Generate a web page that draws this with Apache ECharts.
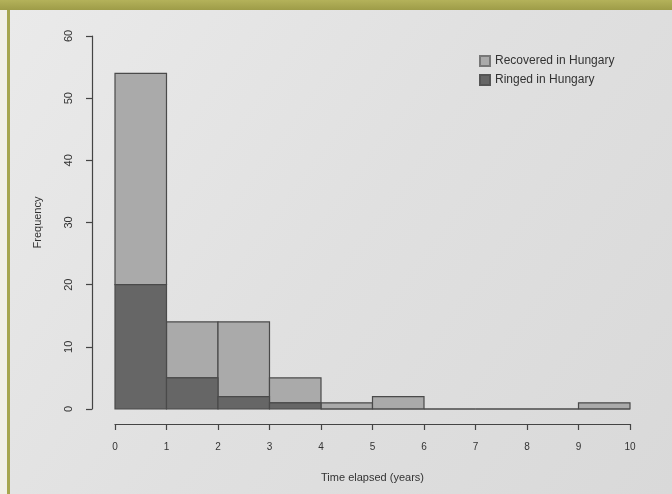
<!DOCTYPE html>
<html>
<head>
<meta charset="utf-8">
<script src="https://cdn.jsdelivr.net/npm/echarts@6/dist/echarts.min.js"></script>
<style>html,body{margin:0;padding:0;background:#f2f1ea;}#c{width:672px;height:494px;}</style>
</head>
<body>
<div id="c"></div>
<script>
// Histogram bins (years)
const binStarts = [0, 1, 2, 3, 4, 5, 6, 7, 8, 9];
const binEnds   = [1, 2, 3, 4, 5, 6, 7, 8, 9, 10];
// Counts per bin
const ringedInHungary    = [20, 5, 2, 1, 0, 0, 0, 0, 0, 0];
const recoveredInHungary = [34, 9, 12, 4, 1, 2, 0, 0, 0, 1];
const xTicks = [0, 1, 2, 3, 4, 5, 6, 7, 8, 9, 10];
const yTicks = [0, 10, 20, 30, 40, 50, 60];

const chart = echarts.init(document.getElementById('c'), null, {renderer: 'canvas'});
const FONT = 'Liberation Sans, Arial, sans-serif';

function makeData(base, vals) {
  return binStarts.map((s, i) => [s, binEnds[i], base ? base[i] : 0, (base ? base[i] : 0) + vals[i]]);
}

function renderBar(color) {
  return function (params, api) {
    const p0 = api.coord([api.value(0), api.value(2)]);
    const p1 = api.coord([api.value(1), api.value(3)]);
    return {
      type: 'rect',
      shape: {x: p0[0], y: p1[1], width: p1[0] - p0[0], height: p0[1] - p1[1]},
      style: {fill: color, stroke: '#4a4a4a', lineWidth: 1.2}
    };
  };
}

const option = {
  backgroundColor: 'transparent',
  animation: false,
  graphic: [
    {type: 'rect', shape: {x: 0, y: 0, width: 672, height: 494}, style: {fill: '#f1f0e6'}, z: -10},
    {type: 'rect', shape: {x: 7, y: 0, width: 3, height: 494}, style: {fill: '#a6a64e'}, z: -9},
    {type: 'rect', shape: {x: 0, y: 0, width: 672, height: 10}, style: {
      fill: new echarts.graphic.LinearGradient(0, 0, 0, 1, [{offset: 0, color: '#b4b25a'}, {offset: 1, color: '#9e9c48'}])}, z: -9},
    {type: 'rect', shape: {x: 10, y: 10, width: 662, height: 484}, style: {
      fill: new echarts.graphic.LinearGradient(0, 0, 1, 1, [{offset: 0, color: '#eaeaea'}, {offset: 0.5, color: '#e0e0e0'}, {offset: 1, color: '#d9d9d9'}])}, z: -8}
  ],
  grid: {left: 115, right: 42, top: 36, bottom: 85},
  legend: {
    orient: 'vertical',
    left: 474, top: 50,
    icon: 'rect',
    itemWidth: 10, itemHeight: 10, itemGap: 7,
    textStyle: {fontFamily: FONT, fontSize: 12, color: '#333'},
    data: ['Recovered in Hungary', 'Ringed in Hungary']
  },
  xAxis: {
    type: 'value', min: 0, max: 10, interval: 1,
    offset: 15,
    name: 'Time elapsed (years)', nameLocation: 'middle', nameGap: 48,
    nameTextStyle: {fontFamily: FONT, fontSize: 11, color: '#333'},
    axisLine: {show: true, onZero: false, lineStyle: {color: '#444', width: 1.2}},
    axisTick: {show: true, length: 6, lineStyle: {color: '#444', width: 1.2}},
    axisLabel: {fontFamily: FONT, fontSize: 10, color: '#333', margin: 18,
      formatter: v => xTicks.includes(v) ? String(v) : ''},
    splitLine: {show: false}
  },
  yAxis: {
    type: 'value', min: 0, max: 60, interval: 10,
    offset: 23,
    name: 'Frequency', nameLocation: 'middle', nameGap: 49,
    nameTextStyle: {fontFamily: FONT, fontSize: 11, color: '#333'},
    axisLine: {show: true, onZero: false, lineStyle: {color: '#444', width: 1.2}},
    axisTick: {show: true, length: 6, lineStyle: {color: '#444', width: 1.2}},
    axisLabel: {fontFamily: FONT, fontSize: 11, color: '#333', margin: 18, rotate: 90,
      formatter: v => yTicks.includes(v) ? String(v) : ''},
    splitLine: {show: false}
  },
  series: [
    {
      name: 'Ringed in Hungary', type: 'custom',
      itemStyle: {color: '#666666', borderColor: '#555', borderWidth: 1},
      renderItem: renderBar('#666666'),
      encode: {x: [0, 1], y: [2, 3]},
      data: makeData(null, ringedInHungary),
      z: 3
    },
    {
      name: 'Recovered in Hungary', type: 'custom',
      itemStyle: {color: '#aaaaaa', borderColor: '#777', borderWidth: 1},
      renderItem: renderBar('#aaaaaa'),
      encode: {x: [0, 1], y: [2, 3]},
      data: makeData(ringedInHungary, recoveredInHungary),
      z: 2
    }
  ]
};
chart.setOption(option);
</script>
</body>
</html>
